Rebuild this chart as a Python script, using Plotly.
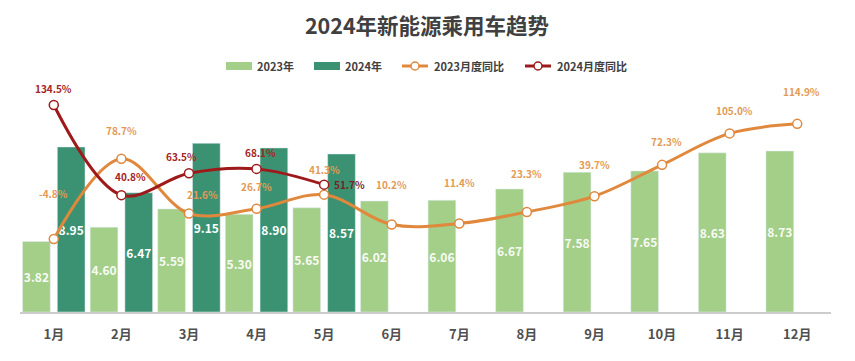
import plotly.graph_objects as go

# ---------------- data ----------------
months = ["1月", "2月", "3月", "4月", "5月", "6月", "7月", "8月", "9月", "10月", "11月", "12月"]
sales_2023 = [3.82, 4.60, 5.59, 5.30, 5.65, 6.02, 6.06, 6.67, 7.58, 7.65, 8.63, 8.73]
months_2024 = ["1月", "2月", "3月", "4月", "5月"]
sales_2024 = [8.95, 6.47, 9.15, 8.90, 8.57]
yoy_2023 = [-4.8, 78.7, 21.6, 26.7, 41.3, 10.2, 11.4, 23.3, 39.7, 72.3, 105.0, 114.9]
yoy_2024 = [134.5, 40.8, 63.5, 68.1, 51.7]

# ---------------- style ----------------
C23 = "#A3CF88"
C24 = "#3A9272"
CORANGE = "#E0883C"
CORANGE_TXT = "#E39A55"
CRED = "#9E1A1A"
CRED_TXT = "#A52424"
FONT = "Noto Sans CJK SC"
PAGE = 8  # browser default body margin
W, H = 855 - PAGE, 361 - PAGE
ML, MR, MT, MB = 12, 24, 32, 49

# label offsets (pixels) for percentage labels
off23_y = [46, 28, 19, 22, 25, 40, 41, 38, 32, 23, 23, 32]
off23_x = [0, 0, 14, 0, 0, 0, 0, 0, 0, 4, 5, 4]
off24_y = [17, 19, 17, 16, 0]
off24_x = [0, 9, -7, 4, 25]

fig = go.Figure()

fig.add_trace(go.Bar(
    x=months, y=sales_2023, name="2023年", marker_color=C23,
    width=0.41, offset=-0.462,
    texttemplate="%{y:.2f}", textposition="inside", insidetextanchor="middle",
    textangle=0, constraintext="none",
    textfont=dict(family=FONT, size=12, color="#F8FBF5", weight="bold"),
    showlegend=False, yaxis="y"))
fig.add_trace(go.Bar(
    x=months_2024, y=sales_2024, name="2024年", marker_color=C24,
    width=0.41, offset=0.052,
    texttemplate="%{y:.2f}", textposition="inside", insidetextanchor="middle",
    textangle=0, constraintext="none",
    textfont=dict(family=FONT, size=12, color="white", weight="bold"),
    showlegend=False, yaxis="y"))
fig.add_trace(go.Scatter(
    x=months, y=yoy_2023, name="2023月度同比", mode="lines+markers",
    line=dict(color=CORANGE, width=3, shape="spline", smoothing=1.0),
    marker=dict(size=9, color="white", line=dict(color=CORANGE, width=1.5)),
    cliponaxis=False, showlegend=False, yaxis="y2"))
fig.add_trace(go.Scatter(
    x=months_2024, y=yoy_2024, name="2024月度同比", mode="lines+markers",
    line=dict(color=CRED, width=3, shape="spline", smoothing=1.0),
    marker=dict(size=9, color="white", line=dict(color=CRED, width=1.5)),
    cliponaxis=False, showlegend=False, yaxis="y2"))

annotations = []
for m, v, dx, dy in zip(months, yoy_2023, off23_x, off23_y):
    annotations.append(dict(x=m, y=v, xref="x", yref="y2", text=f"{v:.1f}%",
                            showarrow=False, xshift=dx, yshift=dy,
                            font=dict(family=FONT, size=10, color=CORANGE_TXT, weight="bold")))
for i, (m, v, dx, dy) in enumerate(zip(months_2024, yoy_2024, off24_x, off24_y)):
    col = "#7A2222" if i == len(yoy_2024) - 1 else CRED_TXT
    annotations.append(dict(x=m, y=v, xref="x", yref="y2", text=f"{v:.1f}%",
                            showarrow=False, xshift=dx, yshift=dy,
                            font=dict(family=FONT, size=10, color=col, weight="bold")))

# manual legend (positions given in page pixels)
pw = W - ML - MR
ph = H - MT - MB
def px2x(px):
    return (px - PAGE - ML) / pw
def py2y(py):
    return (H - MB - (py - PAGE)) / ph

shapes = []
legend_y = 66
legend_items = [("2023年", C23, "bar", 226), ("2024年", C24, "bar", 314),
                ("2023月度同比", CORANGE, "line", 402), ("2024月度同比", CRED, "line", 525)]
for label, col, kind, x0 in legend_items:
    if kind == "bar":
        shapes.append(dict(type="rect", xref="paper", yref="paper",
                           x0=px2x(x0), x1=px2x(x0 + 26), y0=py2y(legend_y + 4), y1=py2y(legend_y - 4),
                           fillcolor=col, line=dict(width=0)))
        tx = x0 + 29
    else:
        shapes.append(dict(type="line", xref="paper", yref="paper",
                           x0=px2x(x0), x1=px2x(x0 + 26), y0=py2y(legend_y), y1=py2y(legend_y),
                           line=dict(color=col, width=3)))
        cx = x0 + 13
        shapes.append(dict(type="circle", xref="paper", yref="paper",
                           x0=px2x(cx - 4), x1=px2x(cx + 4), y0=py2y(legend_y + 4), y1=py2y(legend_y - 4),
                           fillcolor="white", line=dict(color=col, width=1.5)))
        tx = x0 + 30
    annotations.append(dict(x=px2x(tx), y=py2y(legend_y), xref="paper", yref="paper",
                            text=label, showarrow=False, xanchor="left", yanchor="middle",
                            font=dict(family=FONT, size=11, color="#404040", weight="bold")))

fig.update_layout(
    width=W, height=H,
    margin=dict(l=ML, r=MR, t=MT, b=MB),
    paper_bgcolor="white", plot_bgcolor="white",
    barmode="overlay",
    title=dict(text="2024年新能源乘用车趋势", x=(427 - PAGE) / W, xanchor="center",
               y=1 - (26 - PAGE) / H, yanchor="middle", yref="container",
               font=dict(family=FONT, size=21.5, color="#404040", weight="bold")),
    xaxis=dict(categoryorder="array", categoryarray=months, range=[-0.5, 11.5],
               showgrid=False, showline=True, linecolor="#CCCCCC", linewidth=2, ticks="",
               ticklabelstandoff=9,
               tickfont=dict(family=FONT, size=13, color="#505050", weight="bold")),
    yaxis=dict(range=[0, 14.75], visible=False, showgrid=False),
    yaxis2=dict(range=[-80.7, 202.1], overlaying="y", visible=False, showgrid=False),
    annotations=annotations,
    shapes=shapes,
    showlegend=False,
)

fig.write_html("out.html")
